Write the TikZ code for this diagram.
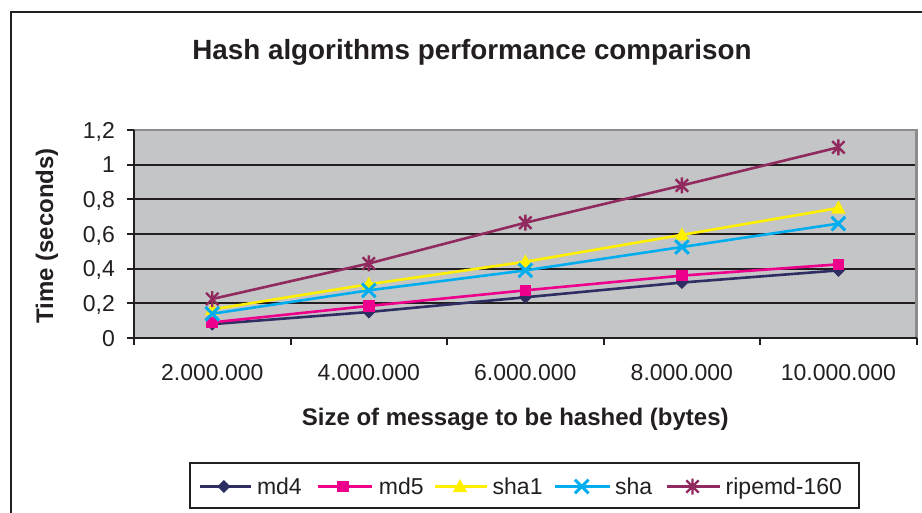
\documentclass[tikz,border=0pt]{standalone}
\usepackage{fontspec}
\setmainfont{Liberation Sans}
\definecolor{ink}{RGB}{35,31,32}
\definecolor{plotbg}{RGB}{196,197,199}
\definecolor{wallgray}{RGB}{140,140,142}
\definecolor{cmdfour}{RGB}{46,46,98}
\definecolor{cmdfive}{RGB}{236,0,140}
\definecolor{cshaone}{RGB}{255,240,0}
\definecolor{csha}{RGB}{0,174,239}
\definecolor{cripemd}{RGB}{145,42,94}
\tikzset{
  frameline/.style={draw=ink, line width=2pt},
  gridline/.style={draw=ink, line width=2pt},
  wallline/.style={draw=wallgray, line width=2.6pt},
  axisline/.style={draw=ink, line width=2pt},
  ticklabel/.style={inner sep=0pt, text=ink, font=\fontsize{23}{27}\selectfont},
  titlelabel/.style={inner sep=0pt, text=ink, font=\fontsize{27.8}{32}\selectfont\bfseries},
  axislabel/.style={inner sep=0pt, text=ink, font=\fontsize{24}{28}\selectfont\bfseries},
  legendtext/.style={inner sep=0pt, text=ink, anchor=base west, font=\fontsize{23}{27}\selectfont},
  series/.style={line width=2.6pt, line join=round},
  pics/diam/.style={code={\fill (0,6.5pt)--(6.5pt,0)--(0,-6.5pt)--(-6.5pt,0)--cycle;}},
  pics/sqr/.style={code={\fill (-5.8pt,-5.8pt) rectangle (5.8pt,5.8pt);}},
  pics/tri/.style={code={\fill (0,7.5pt)--(7.2pt,-5.5pt)--(-7.2pt,-5.5pt)--cycle;}},
  pics/xmark/.style={code={\draw[line width=3pt] (-6.8pt,-6.8pt)--(6.8pt,6.8pt) (-6.8pt,6.8pt)--(6.8pt,-6.8pt);}},
  pics/star/.style={code={\draw[line width=2.4pt] (-6.2pt,-6.2pt)--(6.2pt,6.2pt) (-6.2pt,6.2pt)--(6.2pt,-6.2pt) (0,-8pt)--(0,8pt);}},
}
\begin{document}
\begin{tikzpicture}[x=1pt,y=-1pt]
\useasboundingbox (0,0) rectangle (922,512);
\clip (0,0) rectangle (922,512);
\fill[white] (0,0) rectangle (922,512);

% chart frame (continues past the right and bottom edges)
\draw[frameline] (10.7,530) |- (940,12.3);

% title
\node[titlelabel, anchor=base] (title) at (472,59) {Hash algorithms performance comparison};

% plot area in data units
\begin{scope}[shift={(134pt,-338pt)}, x=156.54pt, y=173.33pt]
  \fill[plotbg] (0,0) rectangle (5,1.2);
  \foreach \v in {0.2,0.4,0.6,0.8,1.0}
    \draw[gridline] (0,\v) -- (5,\v);
  \draw[wallline] (0,1.2) -- (5,1.2) -- (5,0);
  \draw[axisline] (0,1.2) -- (0,0) -- (5,0);
  % value axis
  \foreach \v/\t in {0/0, 0.2/{0,2}, 0.4/{0,4}, 0.6/{0,6}, 0.8/{0,8}, 1.0/1, 1.2/{1,2}} {
    \draw[axisline] (0,\v) -- ++(-7pt,0);
    \node[ticklabel, anchor=base east, xshift=-19pt, yshift=-8pt] at (0,\v) {\t};
  }
  % category axis
  \foreach \i in {0,...,5}
    \draw[axisline] (\i,0) -- ++(0,-7pt);
  \foreach \i/\t in {1/2.000.000, 2/4.000.000, 3/6.000.000, 4/8.000.000, 5/10.000.000}
    \node[ticklabel, anchor=base, yshift=-42pt] (cat\i) at (\i-0.5,0) {\t};

  % data points
  \foreach \i/\v in {1/0.08, 2/0.15, 3/0.235, 4/0.32, 5/0.39}
    \coordinate (mdfour\i) at (\i-0.5,\v);
  \foreach \i/\v in {1/0.09, 2/0.185, 3/0.275, 4/0.36, 5/0.425}
    \coordinate (mdfive\i) at (\i-0.5,\v);
  \foreach \i/\v in {1/0.165, 2/0.31, 3/0.44, 4/0.595, 5/0.75}
    \coordinate (shaone\i) at (\i-0.5,\v);
  \foreach \i/\v in {1/0.14, 2/0.275, 3/0.39, 4/0.525, 5/0.66}
    \coordinate (sha\i) at (\i-0.5,\v);
  \foreach \i/\v in {1/0.225, 2/0.43, 3/0.665, 4/0.88, 5/1.10}
    \coordinate (ripemd\i) at (\i-0.5,\v);

  % series: md4
  \draw[series, cmdfour] (mdfour1) -- (mdfour2) -- (mdfour3) -- (mdfour4) -- (mdfour5);
  \foreach \i in {1,...,5} \pic[color=cmdfour] at (mdfour\i) {diam};
  % series: md5
  \draw[series, cmdfive] (mdfive1) -- (mdfive2) -- (mdfive3) -- (mdfive4) -- (mdfive5);
  \foreach \i in {1,...,5} \pic[color=cmdfive] at (mdfive\i) {sqr};
  % series: sha1
  \draw[series, cshaone] (shaone1) -- (shaone2) -- (shaone3) -- (shaone4) -- (shaone5);
  \foreach \i in {1,...,5} \pic[color=cshaone] at (shaone\i) {tri};
  % series: sha
  \draw[series, csha] (sha1) -- (sha2) -- (sha3) -- (sha4) -- (sha5);
  \foreach \i in {1,...,5} \pic[color=csha] at (sha\i) {xmark};
  % series: ripemd-160
  \draw[series, cripemd] (ripemd1) -- (ripemd2) -- (ripemd3) -- (ripemd4) -- (ripemd5);
  \foreach \i in {1,...,5} \pic[color=cripemd] at (ripemd\i) {star};
\end{scope}

% axis titles
\node[axislabel, anchor=base] (xlabel) at (515.3,425) {Size of message to be hashed (bytes)};
\node[axislabel, rotate=90] (ylabel) at (47,236) {Time (seconds)};

% legend
\draw[frameline] (190,463.3) rectangle (859.3,508.3);
\coordinate (lgA1) at (200,486.5);   \coordinate (lgA2) at (251.4,486.5);
\coordinate (lgB1) at (317.5,486.5); \coordinate (lgB2) at (372,486.5);
\coordinate (lgC1) at (435,486.5);   \coordinate (lgC2) at (487,486.5);
\coordinate (lgD1) at (555,486.5);   \coordinate (lgD2) at (609.5,486.5);
\coordinate (lgE1) at (666.6,486.5); \coordinate (lgE2) at (720,486.5);
\draw[series, cmdfour] (lgA1) -- (lgA2);
\pic[color=cmdfour] at (223.8,486.5) {diam};
\draw[series, cmdfive] (lgB1) -- (lgB2);
\pic[color=cmdfive] at (343,486.5) {sqr};
\draw[series, cshaone] (lgC1) -- (lgC2);
\pic[color=cshaone] at (460,486.5) {tri};
\draw[series, csha] (lgD1) -- (lgD2);
\pic[color=csha] at (581.8,486.5) {xmark};
\draw[series, cripemd] (lgE1) -- (lgE2);
\pic[color=cripemd] at (692.5,486.5) {star};
\node[legendtext] (lgAt) at (256.8,494) {md4};
\node[legendtext] (lgBt) at (378.7,494) {md5};
\node[legendtext] (lgCt) at (492.5,494) {sha1};
\node[legendtext] (lgDt) at (615,494) {sha};
\node[legendtext] (lgEt) at (725.5,494) {ripemd-160};
\end{tikzpicture}
\end{document}
